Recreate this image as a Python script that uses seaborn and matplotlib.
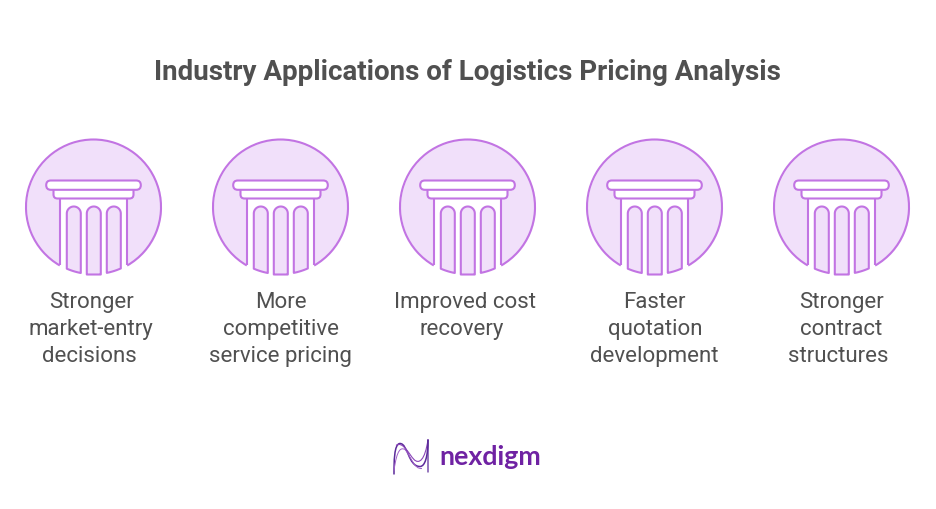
import numpy as np
import pandas as pd
import matplotlib
matplotlib.use("Agg")
import matplotlib.pyplot as plt
from matplotlib.path import Path
from matplotlib.patches import PathPatch, FancyBboxPatch, Arc
import seaborn as sns

title = "Industry Applications of Logistics Pricing Analysis"
labels = [
    ["Stronger", "market-entry", "decisions"],
    ["More", "competitive", "service pricing"],
    ["Improved cost", "recovery"],
    ["Faster", "quotation", "development"],
    ["Stronger", "contract", "structures"],
]
label_x = [
    [91, 90.8, 89.5],
    [281, 280.5, 280.8],
    [464.6, 462],
    [654, 655.5, 654.5],
    [841.5, 841.5, 838.6],
]
brand = "nexdigm"

FILL = "#F1E0FA"
STROKE = "#C274E3"
TEXT = "#505050"
R = 67.5
CY = 206.5
LW = 1.5

sns.set_theme(style="white")
plt.rcParams["font.family"] = ["Roboto", "DejaVu Sans"]

fig, ax = plt.subplots(figsize=(9.36, 5.10), dpi=100)
ax.set_position([0, 0, 1, 1])
ax.set_xlim(0, 936)
ax.set_ylim(508.5, -1.5)
ax.axis("off")

df = pd.DataFrame({"label": [" ".join(l) for l in labels],
                   "pos": [93.5 + 187 * i for i in range(len(labels))], "row": CY})
sns.scatterplot(data=df, x="pos", y="row", s=(2 * R * 0.72) ** 2, color=FILL, linewidth=0,
                legend=False, ax=ax, clip_on=False, zorder=1)


def circle_y(dx):
    return CY + np.sqrt(R ** 2 - dx ** 2)


def flute(cx, x0, x1, flat=False):
    r = (x1 - x0) / 2
    top = 206 + r
    t = np.linspace(np.pi, 2 * np.pi, 24)
    xs = list(x0 + r + r * np.cos(t))
    ys = list(top + r * np.sin(t))
    bx = np.linspace(x1, x0, 12)
    by = np.full_like(bx, 274.0) if flat else circle_y(bx) - 0.3
    xs += list(bx)
    ys += list(by)
    return plt.Polygon(np.column_stack([np.array(xs) + cx, ys]), closed=True,
                       fc=FILL, ec=STROKE, lw=LW, zorder=4, joinstyle="round")


for cx in df["pos"]:
    # white column body and the part of the disc it replaces
    wall = 33.7
    bx = np.linspace(-wall, wall, 30)
    body = np.column_stack([cx + np.r_[-wall, bx, wall], np.r_[198, circle_y(bx) + 1.5, 198]])
    ax.add_patch(plt.Polygon(body, closed=True, fc="white", ec="none", zorder=2))

    # circle outline with a gap under the column
    gap = np.degrees(np.arcsin(wall / R))
    ax.add_patch(Arc((cx, CY), 2 * R, 2 * R, theta1=90 + gap, theta2=90 - gap + 360,
                     ec=STROKE, lw=LW, zorder=3))

    # column walls
    for s in (-1, 1):
        ax.plot([cx + s * wall] * 2, [198, circle_y(wall) - 0.5], color=STROKE, lw=LW,
                zorder=3, solid_capstyle="butt")

    # flutes
    ax.add_patch(flute(cx, -26.7, -12.7))
    ax.add_patch(flute(cx, -6.7, 7.3, flat=True))
    ax.add_patch(flute(cx, 13.3, 27.3))

    # capital: lower band then upper slab
    ax.add_patch(FancyBboxPatch((cx - 37, 186), 74, 9, boxstyle="round,pad=3,rounding_size=4",
                                fc="white", ec=STROKE, lw=LW, zorder=5))
    ax.add_patch(FancyBboxPatch((cx - 47.3, 180), 94.6, 9.3, boxstyle="round,pad=0,rounding_size=4.6",
                                fc="white", ec=STROKE, lw=LW, zorder=6))

ax.text(467.5, 71, title, ha="center", va="center", fontsize=20, fontweight="bold", color=TEXT)

for xs, lines in zip(label_x, labels):
    for j, (x, line) in enumerate(zip(xs, lines)):
        ax.text(x, 306.8 + 26.7 * j, line, ha="center", va="baseline", fontsize=16, color=TEXT)

# logo mark
curves = [
    ([(394, 474), (394, 462), (394, 443), (400, 443), (408, 443), (408, 466), (420, 466)], "#5B2A9A", 1.1),
    ([(394, 470), (397, 448), (401, 447), (405, 449), (411, 456), (414, 469), (422, 468)], "#A05FC8", 0.7),
    ([(396, 445), (403, 440), (409, 454), (414, 459), (419, 464), (425, 460), (428, 439)], "#8A45B8", 0.8),
    ([(420, 466), (425, 466), (428, 456), (428, 439)], "#5B2A9A", 1.1),
    ([(428, 439), (428, 450), (428, 460), (428, 472)], "#5B2A9A", 0.9),
]
for pts, col, lw in curves:
    codes = [Path.MOVETO] + [Path.CURVE4] * (len(pts) - 1)
    ax.add_patch(PathPatch(Path(pts, codes), fc="none", ec=col, lw=lw, zorder=3))

ax.text(490.5, 456, brand, ha="center", va="center", fontsize=19.3, fontweight="bold",
        color="#6F22A3", family=["Lato", "DejaVu Sans"])

fig.savefig("out.png", dpi=100, facecolor="white")
